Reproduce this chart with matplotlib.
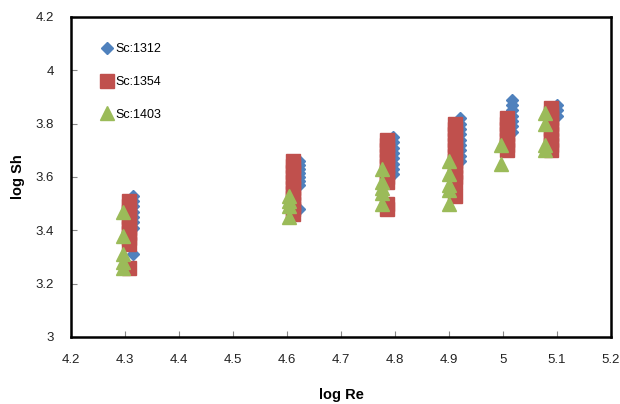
import matplotlib.pyplot as plt

# Sc = 1312
re_1312 = [4.315]*8 + [4.622]*8 + [4.796]*8 + [4.920]*9 + [5.017]*7 + [5.100]*3
sh_1312 = [3.53, 3.51, 3.49, 3.47, 3.45, 3.43, 3.41, 3.31,
           3.66, 3.645, 3.63, 3.615, 3.60, 3.585, 3.57, 3.48,
           3.75, 3.73, 3.71, 3.69, 3.67, 3.65, 3.63, 3.61,
           3.82, 3.80, 3.78, 3.76, 3.74, 3.72, 3.70, 3.68, 3.66,
           3.89, 3.87, 3.85, 3.83, 3.81, 3.79, 3.77,
           3.87, 3.85, 3.83]

# Sc = 1354
re_1354 = [4.307]*10 + [4.611]*11 + [4.785]*11 + [4.911]*13 + [5.007]*7 + [5.089]*9
sh_1354 = [3.51, 3.49, 3.47, 3.45, 3.43, 3.41, 3.39, 3.37, 3.35, 3.26,
           3.66, 3.64, 3.62, 3.60, 3.58, 3.56, 3.54, 3.52, 3.50, 3.48, 3.46,
           3.74, 3.72, 3.70, 3.68, 3.66, 3.64, 3.62, 3.60, 3.58, 3.50, 3.48,
           3.80, 3.78, 3.76, 3.74, 3.72, 3.70, 3.68, 3.66, 3.64, 3.62, 3.60, 3.58, 3.53,
           3.82, 3.80, 3.78, 3.76, 3.74, 3.72, 3.70,
           3.86, 3.84, 3.82, 3.80, 3.78, 3.76, 3.74, 3.72, 3.70]

# Sc = 1403
re_1403 = [4.297]*5 + [4.603]*4 + [4.776]*5 + [4.900]*5 + [4.996]*2 + [5.078]*4
sh_1403 = [3.47, 3.38, 3.31, 3.28, 3.26,
           3.53, 3.51, 3.49, 3.45,
           3.63, 3.58, 3.56, 3.54, 3.50,
           3.66, 3.61, 3.57, 3.55, 3.50,
           3.72, 3.65,
           3.84, 3.80, 3.72, 3.70]

x_ticks = [4.2, 4.3, 4.4, 4.5, 4.6, 4.7, 4.8, 4.9, 5.0, 5.1, 5.2]
x_labels = ['4.2', '4.3', '4.4', '4.5', '4.6', '4.7', '4.8', '4.9', '5', '5.1', '5.2']
y_ticks = [3.0, 3.2, 3.4, 3.6, 3.8, 4.0, 4.2]
y_labels = ['3', '3.2', '3.4', '3.6', '3.8', '4', '4.2']

plt.rcParams['font.family'] = ['Liberation Sans', 'DejaVu Sans']

fig = plt.figure(figsize=(6.2, 4.04), dpi=100)
ax = fig.add_axes([0.1145, 0.166, 0.871, 0.792])

ax.plot(re_1312, sh_1312, 'D', color='#4F81BD', ms=6, mec='#4F81BD', ls='none', label='Sc:1312')
ax.plot(re_1354, sh_1354, 's', color='#C0504D', ms=9.5, mec='#C0504D', ls='none', label='Sc:1354')
ax.plot(re_1403, sh_1403, '^', color='#9BBB59', ms=10, mec='#9BBB59', ls='none', label='Sc:1403')

ax.set_xlim(4.2, 5.2)
ax.set_ylim(3.0, 4.2)
ax.set_xticks(x_ticks)
ax.set_xticklabels(x_labels)
ax.set_yticks(y_ticks)
ax.set_yticklabels(y_labels)
ax.tick_params(direction='in', length=4, width=0.8, color='#888888',
               labelsize=9.5, labelcolor='#222222')
ax.tick_params(axis='x', pad=12)
ax.tick_params(axis='y', pad=12)
for s in ax.spines.values():
    s.set_linewidth(1.8)
    s.set_color('black')

ax.set_xlabel('log Re', fontsize=10.5, fontweight='bold', labelpad=16)
ax.set_ylabel('log Sh', fontsize=10.5, fontweight='bold', labelpad=8)

ax.legend(loc='upper left', bbox_to_anchor=(0.045, 0.937), frameon=False,
          fontsize=9, handlelength=0.8, handletextpad=0.3, labelspacing=1.65,
          borderpad=0)

fig.savefig('out.png', dpi=100)
